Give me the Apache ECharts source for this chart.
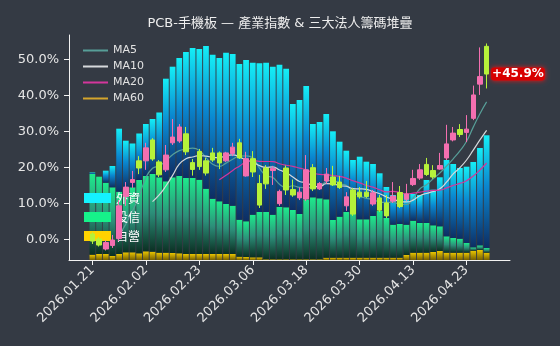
<!DOCTYPE html>
<html>
<head>
<meta charset="utf-8">
<script src="https://cdn.jsdelivr.net/npm/echarts@6/dist/echarts.min.js"></script>
<style>
  html, body { margin: 0; padding: 0; background: #343a44; }
  #chart { width: 560px; height: 346px; }
</style>
</head>
<body>
<div id="chart"></div>
<script>
// Trading sessions shown on the axis (blank sessions pad both ends)
const dates = [
  '2026.01.16','2026.01.19','2026.01.20',
  '2026.01.21','2026.01.22','2026.01.23','2026.01.26','2026.01.27','2026.01.28','2026.01.29','2026.01.30',
  '2026.02.02','2026.02.03','2026.02.04','2026.02.05','2026.02.06','2026.02.09','2026.02.10','2026.02.11',
  '2026.02.23','2026.02.24','2026.02.25','2026.02.26','2026.03.02','2026.03.03','2026.03.04','2026.03.05',
  '2026.03.06','2026.03.09','2026.03.10','2026.03.11','2026.03.12','2026.03.13','2026.03.16','2026.03.17',
  '2026.03.18','2026.03.19','2026.03.20','2026.03.23','2026.03.24','2026.03.25','2026.03.26','2026.03.27',
  '2026.03.30','2026.03.31','2026.04.01','2026.04.02','2026.04.07','2026.04.08','2026.04.09','2026.04.10',
  '2026.04.13','2026.04.14','2026.04.15','2026.04.16','2026.04.17','2026.04.20','2026.04.21','2026.04.22',
  '2026.04.23','2026.04.24','2026.04.27','2026.04.28',
  '2026.04.29','2026.04.30','2026.05.04'
];
const leadBlank = 3;   // empty sessions before the first value
const trailBlank = 3;  // empty sessions after the last value

// Industry index, cumulative change in % (from 2026.01.21 to 2026.04.28)
const idxOpen = [
  1.5, 0.1, -2.7, -1.7, 0.2, 11.9, 15.8, 21.8, 21.8, 27.6,
  21.5, 19.3, 26.8, 27.3, 29.3, 21.3, 24.4, 21.8, 24.0, 24.0,
  21.8, 23.8, 26.8, 17.6, 22.4, 15.5, 19.8, 19.1, 9.9, 19.8,
  13.8, 11.5, 11.2, 19.9, 14.0, 16.2, 17.3, 15.9, 9.3, 13.7,
  13.1, 13.1, 9.8, 11.5, 10.1, 10.6, 13.0, 11.1, 15.2, 17.0,
  20.8, 19.1, 19.5, 22.6, 27.6, 30.5, 29.7, 33.6, 43.1, 53.6
];
const idxClose = [
  -0.5, -1.6, -0.9, -0.2, 9.3, 14.5, 16.6, 19.8, 25.4, 22.3,
  17.9, 23.4, 28.4, 31.2, 24.3, 19.4, 20.2, 18.4, 22.0, 21.2,
  24.0, 25.6, 22.6, 22.4, 18.7, 9.5, 15.4, 19.7, 13.3, 13.7,
  12.3, 13.1, 19.3, 14.0, 15.5, 18.1, 15.1, 14.4, 11.8, 7.0,
  11.8, 11.9, 12.9, 8.1, 6.5, 12.0, 9.1, 12.6, 16.9, 19.3,
  18.0, 17.3, 20.5, 26.5, 29.5, 29.1, 30.6, 40.1, 45.2, 45.9
];
const idxLow = [
  -1.3, -2.0, -3.1, -2.4, -0.5, 9.3, 14.3, 18.1, 19.3, 21.8,
  17.3, 18.7, 26.2, 26.8, 23.4, 17.7, 19.3, 17.7, 21.5, 19.5,
  21.5, 23.1, 22.3, 17.4, 17.3, 8.7, 14.0, 15.1, 9.3, 12.3,
  11.8, 10.9, 10.6, 13.4, 13.7, 15.4, 14.8, 14.0, 7.9, 6.5,
  11.3, 11.5, 9.3, 7.6, 5.9, 10.1, 8.7, 10.6, 14.8, 16.5,
  17.6, 16.8, 19.3, 22.0, 27.2, 28.4, 27.0, 33.1, 40.1, 41.9
];
const idxHigh = [
  2.0, 0.6, -0.3, 1.2, 10.9, 15.9, 19.0, 23.1, 26.8, 28.1,
  22.0, 26.2, 33.4, 32.0, 31.2, 22.3, 25.1, 22.6, 25.4, 24.4,
  24.3, 26.8, 27.9, 24.3, 24.5, 17.9, 20.6, 20.4, 13.8, 20.5,
  16.6, 14.4, 23.4, 20.9, 15.9, 19.8, 20.4, 17.6, 13.1, 14.3,
  14.5, 16.2, 13.7, 12.3, 12.3, 15.9, 14.8, 15.4, 19.3, 20.9,
  22.6, 20.6, 24.0, 31.8, 31.2, 32.0, 34.5, 42.7, 53.3, 54.4
];

// Institutional holdings, stacked (dealers / trusts / foreign)
const dealerVals = [
  5.3, 6.0, 6.0, 4.0, 6.0, 7.7, 7.7, 6.7, 8.7, 8.3,
  7.3, 7.3, 7.0, 6.7, 6.0, 6.0, 6.0, 6.0, 6.0, 6.0,
  6.0, 6.0, 3.3, 3.0, 2.7, 2.7, 0.7, 0.7, 0.7, 0.7,
  0.7, 0.7, 0.7, 0.7, 0.7, 2.3, 2.3, 2.3, 2.3, 2.3,
  2.3, 2.3, 2.3, 2.3, 2.3, 2.3, 2.3, 5.0, 7.3, 7.3,
  7.3, 8.0, 9.0, 7.3, 7.3, 7.3, 7.3, 9.3, 10.0, 7.3
];
const trustVals = [
  80.7, 77.3, 71.3, 68.7, 62.3, 63.0, 65.0, 73.3, 75.3, 77.7,
  75.4, 71.4, 75.7, 77.3, 76.0, 76.0, 74.3, 65.3, 55.3, 52.7,
  50.0, 48.3, 37.0, 35.7, 42.6, 45.3, 47.3, 44.6, 52.3, 52.0,
  49.3, 45.3, 60.0, 62.0, 61.0, 58.4, 37.7, 41.0, 45.7, 52.4,
  38.4, 38.4, 41.7, 47.0, 39.7, 33.0, 33.7, 30.3, 32.0, 29.7,
  29.7, 26.7, 24.7, 16.4, 14.7, 14.0, 9.7, 3.4, 4.7, 4.7
];
const foreignVals = [
  1.5, 0.0, 12.0, 21.3, 63.0, 48.6, 43.8, 46.5, 52.0, 55.0,
  64.8, 102.6, 110.6, 118.0, 126.0, 130.0, 130.7, 142.7, 144.0, 143.3,
  151.3, 151.7, 155.7, 161.3, 152.0, 148.7, 149.3, 148.0, 142.3, 138.6,
  106.0, 114.0, 113.3, 73.3, 76.3, 85.3, 88.7, 75.0, 61.3, 45.3,
  62.6, 57.6, 52.0, 37.4, 31.0, 29.7, 28.0, 30.7, 26.7, 28.0,
  43.0, 35.6, 49.0, 76.3, 74.0, 70.7, 76.3, 85.3, 97.3, 112.7
];
const holdingsMax = 225;

const yTicks = [0, 10, 20, 30, 40, 50];
const maPeriods = [5, 10, 20, 60];
const maColors = ['#579e98', '#d6d9dc', '#d4369c', '#d4a52c'];

// ---------------------------------------------------------------
const pad = arr => Array(leadBlank).fill(null).concat(arr, Array(trailBlank).fill(null));

const candleRaw = idxOpen.map((o, i) => [o, idxClose[i], idxLow[i], idxHigh[i]]);
const candleData = pad(candleRaw).map(v => v === null ? '-' : v);

function movingAverage(n) {
  const out = idxClose.map((_, i) => {
    if (i < n - 1) return null;
    let s = 0;
    for (let k = i - n + 1; k <= i; k++) s += idxClose[k];
    return +(s / n).toFixed(2);
  });
  return pad(out).map(v => v === null ? '-' : v);
}

const lastPos = leadBlank + idxClose.length - 1;
const lastClose = idxClose[idxClose.length - 1];
const lastLabel = (lastClose >= 0 ? '+' : '') + lastClose.toFixed(1) + '%';

const grad = stops => new echarts.graphic.LinearGradient(0, 0, 0, 1,
  stops.map(([offset, color]) => ({ offset, color })));

const barSeries = [
  { name: '自營', data: dealerVals, color: grad([[0, '#ebc600'], [1, '#756000']]), legendColor: '#ffd200' },
  { name: '投信', data: trustVals, color: grad([[0, '#1eea8c'], [0.5, '#2c8e79'], [1, '#0b2f22']]), legendColor: '#16f28a' },
  { name: '外資', data: foreignVals, color: grad([[0, '#14eef6'], [0.45, '#0a86cf'], [1, '#0e2d62']]), legendColor: '#14f2ff' }
].map(s => ({
  name: s.name,
  type: 'bar',
  stack: 'holdings',
  yAxisIndex: 1,
  barWidth: '86%',
  z: 2,
  itemStyle: { color: s.color },
  data: pad(s.data).map(v => v === null ? '-' : v),
  legendColor: s.legendColor
}));

const maSeries = maPeriods.map((n, i) => ({
  name: 'MA' + n,
  type: 'line',
  data: movingAverage(n),
  symbol: 'none',
  smooth: true,
  z: 3,
  lineStyle: { color: maColors[i], width: 1.2 },
  itemStyle: { color: maColors[i] }
}));

const labelEvery = 8;
const showAt = idx => idx >= leadBlank && (idx - leadBlank) % labelEvery === 0;

const chart = echarts.init(document.getElementById('chart'), null, { renderer: 'canvas' });
chart.setOption({
  backgroundColor: '#343a44',
  animation: false,
  title: {
    text: 'PCB-手機板 — 產業指數 & 三大法人籌碼堆疊',
    left: 'center',
    top: 12,
    textStyle: { color: '#eeeeee', fontSize: 13, fontWeight: 'normal',
      fontFamily: 'DejaVu Sans, Noto Sans CJK TC, sans-serif' }
  },
  legend: [
    {
      data: maSeries.map((s, i) => ({ name: s.name, icon: 'rect', itemStyle: { color: maColors[i] } })),
      orient: 'vertical',
      left: 78,
      top: 39,
      itemWidth: 25,
      itemHeight: 2,
      itemGap: 3,
      textStyle: { color: '#e2e2e2', fontSize: 11, lineHeight: 13, fontFamily: 'DejaVu Sans' }
    },
    {
      data: barSeries.slice().reverse().map(s => ({ name: s.name, itemStyle: { color: s.legendColor } })),
      orient: 'vertical',
      left: 79,
      top: 186,
      itemWidth: 27,
      itemHeight: 10,
      itemGap: 5,
      icon: 'rect',
      z: 4,
      textStyle: { color: '#ffffff', fontSize: 12, lineHeight: 14,
        fontFamily: 'Noto Sans CJK TC, sans-serif' }
    }
  ],
  grid: { left: 69, right: 50, top: 35, bottom: 86 },
  xAxis: {
    type: 'category',
    data: dates,
    boundaryGap: true,
    axisLine: { onZero: false, lineStyle: { color: '#f2f2f2', width: 1 } },
    axisTick: { show: true, alignWithLabel: true, interval: showAt, length: 5,
      lineStyle: { color: '#f2f2f2' } },
    axisLabel: { interval: showAt, rotate: 45, margin: 8, color: '#e6e6e6', fontSize: 13,
      fontFamily: 'DejaVu Sans' },
    splitLine: { show: false }
  },
  yAxis: [
    {
      type: 'value',
      min: -5.75,
      max: 56.75,
      axisLine: { show: true, lineStyle: { color: '#f2f2f2', width: 1 } },
      axisTick: { show: true, length: 5, customValues: yTicks, lineStyle: { color: '#f2f2f2' } },
      axisLabel: { customValues: yTicks, color: '#e6e6e6', fontSize: 13, margin: 10,
        fontFamily: 'DejaVu Sans', formatter: v => v.toFixed(1) + '%' },
      splitLine: { show: false }
    },
    {
      type: 'value',
      min: 0,
      max: holdingsMax,
      show: false,
      splitLine: { show: false }
    }
  ],
  series: [
    ...barSeries.map(({ legendColor, ...s }) => s),
    ...maSeries,
    {
      name: '指數',
      type: 'candlestick',
      data: candleData,
      barWidth: 5,
      z: 5,
      itemStyle: {
        color: '#f46fb0', color0: '#b6f23a',
        borderColor: '#f46fb0', borderColor0: '#b6f23a', borderWidth: 1
      },
      markPoint: {
        symbol: 'circle',
        symbolSize: 1,
        itemStyle: { color: 'rgba(0,0,0,0)' },
        data: [{ coord: [lastPos, lastClose], value: lastClose }],
        label: {
          show: true,
          position: 'right',
          distance: 4,
          formatter: () => lastLabel,
          color: '#ffffff',
          fontSize: 12,
          fontWeight: 'bold',
          fontFamily: 'DejaVu Sans',
          backgroundColor: '#d80000',
          borderRadius: 3,
          padding: [1, 1, 0, 1],
          shadowColor: 'rgba(255,20,20,0.9)',
          shadowBlur: 5
        }
      }
    }
  ]
});
</script>
</body>
</html>
